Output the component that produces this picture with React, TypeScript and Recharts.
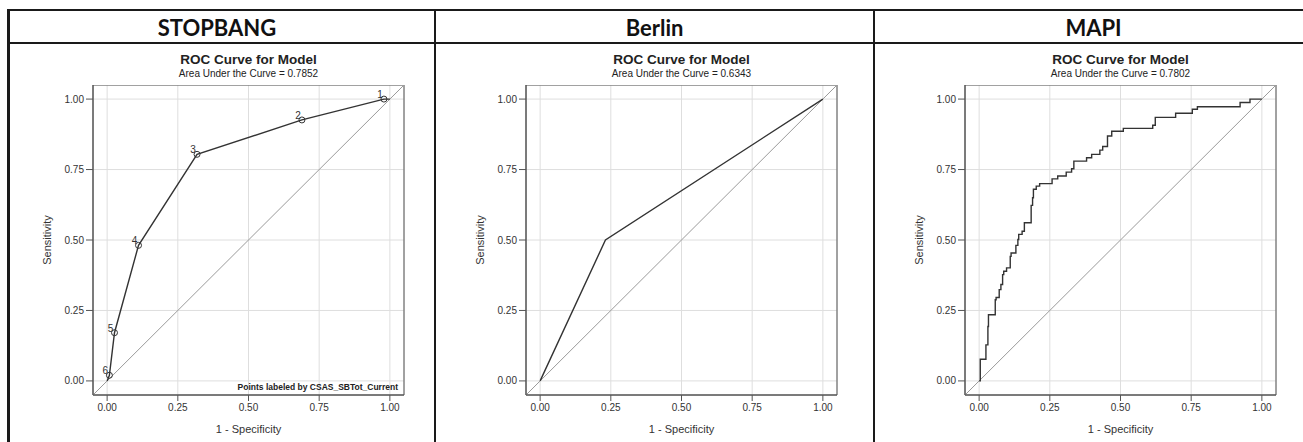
import {
  ComposedChart,
  Line,
  XAxis,
  YAxis,
  CartesianGrid,
  ReferenceLine,
  ReferenceArea,
} from 'recharts'

const axisTicks = [0, 0.25, 0.5, 0.75, 1]
const panelNames = ['STOPBANG', 'Berlin', 'MAPI']
const aucValues = ['0.7852', '0.6343', '0.7802']

const stopbangFpr = [0, 0.008, 0.026, 0.111, 0.318, 0.689, 0.979, 1]
const stopbangTpr = [0, 0.02, 0.171, 0.481, 0.804, 0.926, 1, 1]
const stopbangLabels = ['', '6', '5', '4', '3', '2', '1', '']

const berlinFpr = [0, 0.231, 1]
const berlinTpr = [0, 0.5, 1]

const mapiFpr = [
  0, 0.004, 0.024, 0.031, 0.033, 0.057, 0.06, 0.071, 0.077, 0.083, 0.087, 0.097,
  0.11, 0.113, 0.13, 0.137, 0.14, 0.152, 0.16, 0.184, 0.189, 0.192, 0.202, 0.214,
  0.258, 0.278, 0.308, 0.327, 0.335, 0.38, 0.398, 0.427, 0.437, 0.454, 0.469, 0.51,
  0.614, 0.623, 0.695, 0.754, 0.772, 0.923, 0.958, 1,
]
const mapiTpr = [
  0, 0.077, 0.128, 0.193, 0.235, 0.288, 0.296, 0.324, 0.342, 0.377, 0.389, 0.401,
  0.442, 0.454, 0.481, 0.502, 0.52, 0.531, 0.561, 0.623, 0.65, 0.68, 0.691, 0.7,
  0.717, 0.727, 0.741, 0.753, 0.78, 0.792, 0.804, 0.819, 0.832, 0.869, 0.886, 0.896,
  0.907, 0.935, 0.95, 0.964, 0.973, 0.988, 1, 1,
]

const toRows = (xs: number[], ys: number[], labels?: string[]) =>
  xs.map((x, i) => ({ x, y: ys[i], label: labels ? labels[i] : '' }))

const panels = [
  { data: toRows(stopbangFpr, stopbangTpr, stopbangLabels), step: false, left: 93, center: 217 },
  { data: toRows(berlinFpr, berlinTpr), step: false, left: 526, center: 654.5 },
  { data: toRows(mapiFpr, mapiTpr), step: true, left: 965, center: 1093.5 },
]

const FONT = '"Liberation Sans", Arial, sans-serif'
const PLOT_TOP = 85
const PLOT_W = 311
const PLOT_H = 310
const AXIS_W = 60

function renderDot(props: any) {
  const { cx, cy, payload, index } = props
  if (!payload.label) return <g key={`d${index}`} />
  return (
    <g key={`d${index}`}>
      <circle cx={cx} cy={cy} r={3} fill="none" stroke="#333" strokeWidth={1} />
      <text x={cx - 4} y={cy - 1} fontSize={10} fill="#333" textAnchor="middle" fontFamily={FONT}>
        {payload.label}
      </text>
    </g>
  )
}

function RocChart({ data, step }: { data: any[]; step: boolean }) {
  const tick = { fontSize: 10, fill: '#333', fontFamily: FONT }
  return (
    <ComposedChart
      width={AXIS_W + PLOT_W + 10}
      height={PLOT_H + 45}
      data={data}
      margin={{ top: 0, right: 10, bottom: 0, left: 0 }}
    >
      <CartesianGrid stroke="#dedede" />
      <XAxis
        dataKey="x"
        type="number"
        domain={[-0.05, 1.05]}
        ticks={axisTicks}
        tickFormatter={(v: number) => v.toFixed(2)}
        tick={tick}
        tickSize={6}
        tickMargin={3}
        stroke="#555"
        height={45}
        label={{ value: '1 - Specificity', position: 'insideBottom', offset: 7, fontSize: 11, fill: '#333', fontFamily: FONT }}
      />
      <YAxis
        dataKey="y"
        type="number"
        domain={[-0.05, 1.05]}
        ticks={axisTicks}
        tickFormatter={(v: number) => v.toFixed(2)}
        tick={tick}
        tickSize={7}
        tickMargin={2}
        stroke="#555"
        width={AXIS_W}
        label={{
          value: 'Sensitivity',
          angle: -90,
          position: 'insideLeft',
          offset: 14,
          fontSize: 11,
          fill: '#333',
          fontFamily: FONT,
          style: { textAnchor: 'middle' },
        }}
      />
      <ReferenceArea x1={-0.05} x2={1.05} y1={-0.05} y2={1.05} fill="none" stroke="#555" strokeWidth={1} />
      <ReferenceLine
        segment={[{ x: -0.05, y: -0.05 }, { x: 1.05, y: 1.05 }]}
        stroke="#9a9a9a"
        strokeWidth={1}
      />
      <Line
        dataKey="y"
        type={step ? 'stepAfter' : 'linear'}
        stroke="#333"
        strokeWidth={1.4}
        dot={step ? false : renderDot}
        isAnimationActive={false}
      />
    </ComposedChart>
  )
}

export default function App() {
  const line = '#1a1a1a'
  return (
    <div style={{ position: 'absolute', left: 0, top: 0, width: 1303, height: 442, background: '#fff', overflow: 'hidden' }}>
      {/* table borders */}
      <div style={{ position: 'absolute', left: 8, top: 9, width: 1300, height: 2, background: line }} />
      <div style={{ position: 'absolute', left: 8, top: 42, width: 1300, height: 1.5, background: line }} />
      <div style={{ position: 'absolute', left: 7, top: 9, width: 3, height: 440, background: line }} />
      <div style={{ position: 'absolute', left: 434, top: 9, width: 1.5, height: 440, background: line }} />
      <div style={{ position: 'absolute', left: 873, top: 9, width: 1.5, height: 440, background: line }} />

      {panels.map((p, i) => (
        <div key={panelNames[i]}>
          <div
            style={{
              position: 'absolute',
              left: p.center - 150,
              width: 300,
              top: 14,
              textAlign: 'center',
              fontFamily: 'Lato, "Open Sans", sans-serif',
              fontWeight: 700,
              fontSize: 22,
              lineHeight: '28px',
              color: '#111',
            }}
          >
            {panelNames[i]}
          </div>
          <div
            style={{
              position: 'absolute',
              left: p.left + PLOT_W / 2 - 150,
              width: 300,
              top: 52,
              textAlign: 'center',
              fontFamily: FONT,
              color: '#222',
            }}
          >
            <div style={{ fontSize: 13.5, fontWeight: 700, lineHeight: '16px' }}>ROC Curve for Model</div>
            <div style={{ fontSize: 10, lineHeight: '12px' }}>Area Under the Curve = {aucValues[i]}</div>
          </div>
          <div style={{ position: 'absolute', left: p.left - AXIS_W, top: PLOT_TOP }}>
            <RocChart data={p.data} step={p.step} />
          </div>
        </div>
      ))}

      <div
        style={{
          position: 'absolute',
          left: 190,
          width: 208,
          top: 382,
          textAlign: 'right',
          fontFamily: FONT,
          fontSize: 8.5,
          fontWeight: 700,
          color: '#222',
        }}
      >
        Points labeled by CSAS_SBTot_Current
      </div>
    </div>
  )
}
